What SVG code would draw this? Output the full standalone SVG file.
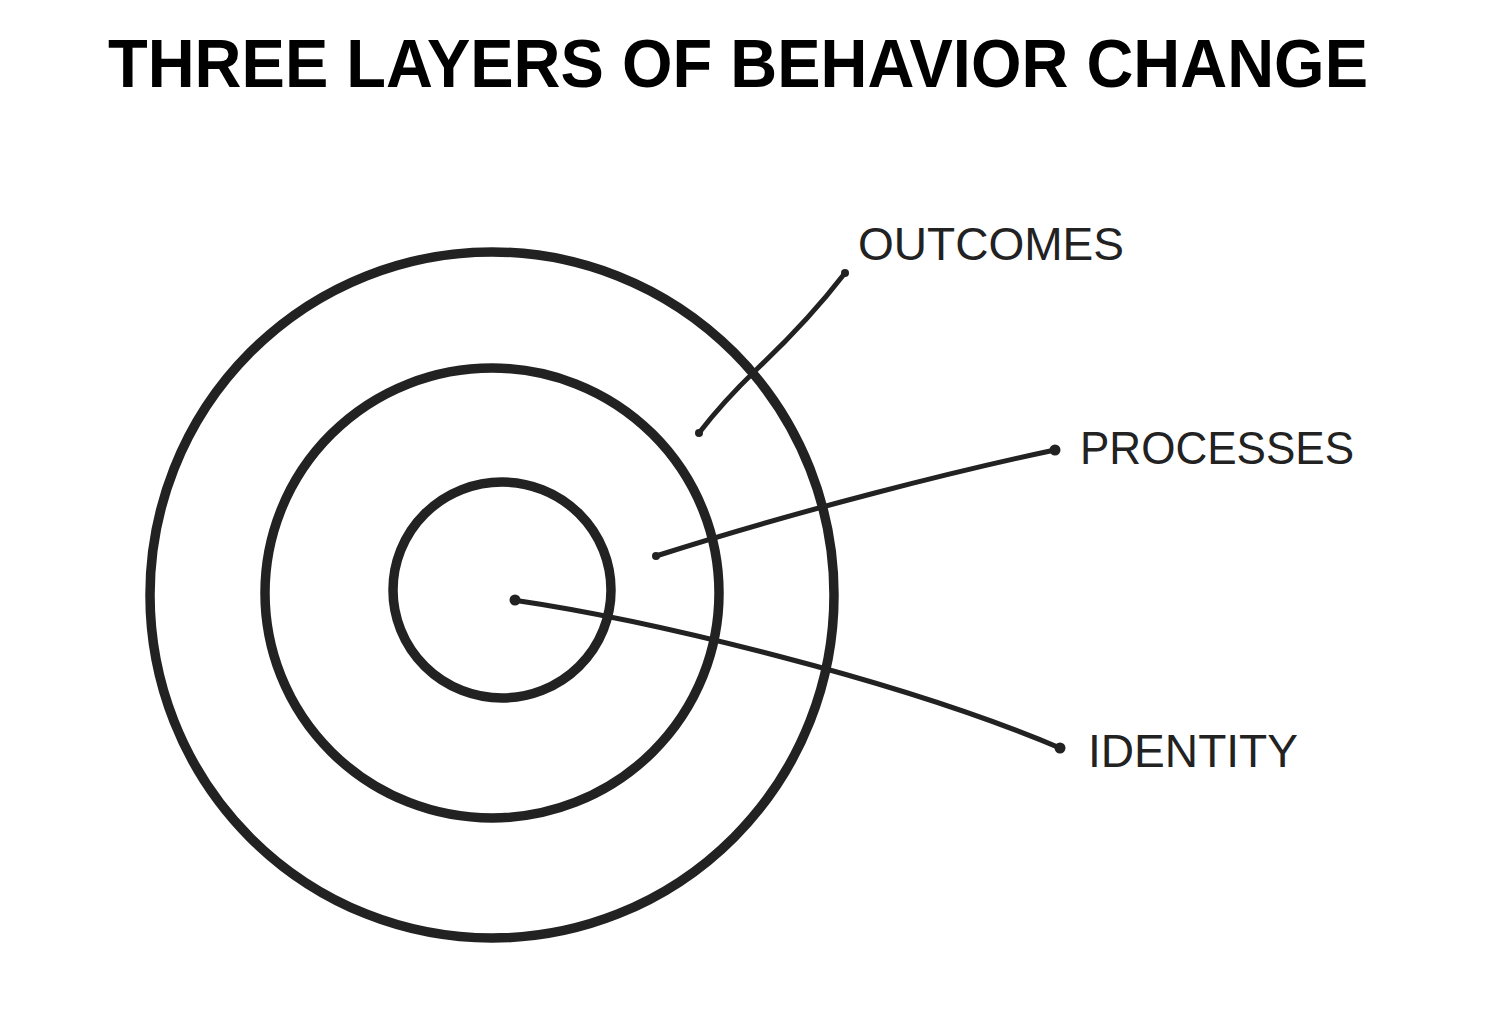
<svg xmlns="http://www.w3.org/2000/svg" width="1512" height="1010" viewBox="0 0 1512 1010">
  <style>
    .ring { fill: none; stroke: #222; stroke-width: 9.5; }
    .conn { fill: none; stroke: #222; stroke-width: 5; stroke-linecap: round; stroke-linejoin: round; }
    .dot { fill: #222; }
    .title { font-family: "Liberation Sans", Arial, sans-serif; font-weight: bold; font-size: 68px; fill: #000; }
    .label { font-family: "Liberation Sans", Arial, sans-serif; font-size: 46px; fill: #222; }
  </style>
  <rect width="1512" height="1010" fill="#fff"/>
  <text class="title" x="108" y="87" textLength="1260" lengthAdjust="spacingAndGlyphs">THREE LAYERS OF BEHAVIOR CHANGE</text>

  <g id="outcomes-ring">
    <ellipse class="ring" cx="492" cy="595" rx="342" ry="343"/>
  </g>
  <g id="processes-ring">
    <ellipse class="ring" cx="492" cy="593" rx="227" ry="225"/>
  </g>
  <g id="identity-ring">
    <ellipse class="ring" cx="502" cy="590" rx="109" ry="108"/>
  </g>

  <g id="outcomes-label">
    <text class="label" x="858" y="260" textLength="266" lengthAdjust="spacingAndGlyphs">OUTCOMES</text>
  </g>
  <g id="processes-label">
    <text class="label" x="1080" y="464" textLength="274" lengthAdjust="spacingAndGlyphs">PROCESSES</text>
  </g>
  <g id="identity-label">
    <text class="label" x="1088" y="767" textLength="210" lengthAdjust="spacingAndGlyphs">IDENTITY</text>
  </g>

  <g id="connectors">
    <path class="conn" d="M845,273 C818,308 792,336 757,369 C730,395 712,416 699,433"/>
    <path class="conn" d="M1055,450 C960,470 800,510 656,556"/>
    <path class="conn" d="M513,600 C650,620 900,680 1060,748"/>
    <circle class="dot" cx="845" cy="273" r="4"/>
    <circle class="dot" cx="699" cy="433" r="4"/>
    <circle class="dot" cx="1055" cy="450" r="5.5"/>
    <circle class="dot" cx="656" cy="556" r="4"/>
    <circle class="dot" cx="515" cy="600" r="5.5"/>
    <circle class="dot" cx="1060" cy="748" r="5.5"/>
  </g>
</svg>
